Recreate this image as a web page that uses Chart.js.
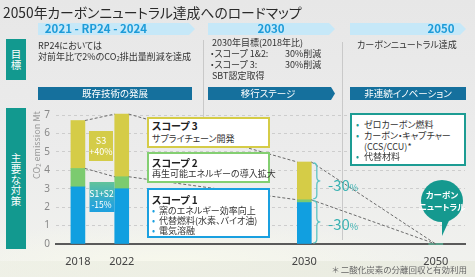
<!DOCTYPE html>
<html><head><meta charset="utf-8">
<script src="https://cdn.jsdelivr.net/npm/chart.js@4"></script>
<style>
html,body{margin:0;padding:0}
body{width:475px;height:277px;overflow:hidden;position:relative;font-family:"Noto Sans CJK JP","Noto Sans",sans-serif;font-feature-settings:"palt";color:#333;
background:radial-gradient(ellipse 260px 40px at 170px 262px,#f7f8ec 0%,rgba(247,248,236,0) 100%),linear-gradient(180deg,#e7e7e7 0%,#ececec 55%,#f1f2ee 100%);}
#c{position:absolute;left:0;top:0;z-index:1}
.a{position:absolute;white-space:nowrap;line-height:1;z-index:2}
.l{transform:translateY(-50%)}
.c{transform:translate(-50%,-50%);text-align:center}
.r{transform:translate(-100%,-50%)}
.sep{position:absolute;width:1px;background:#c9c9c9;z-index:0}
.band{position:absolute;height:12px;background:#c6e8f8;z-index:2;clip-path:polygon(0 0,calc(100% - 6px) 0,100% 50%,calc(100% - 6px) 100%,0 100%)}
.dark{position:absolute;height:13px;background:#15709d;z-index:2}
.bt{color:#1d9bd8;font-weight:700;font-size:11.5px}
.wt{color:#fff;font-size:9.5px}
.teal{position:absolute;background:#12998f;z-index:2;color:#fff;text-align:center}
.box{position:absolute;background:#fff;border:2px solid;box-sizing:border-box;z-index:2}
.t9{font-size:9px}
.h{font-size:10px;font-weight:700;color:#222}
.bl{color:#1aa0e0}
.tb{color:#1d9c93}
.m30{color:#3ab2b2;font-size:15px}
.m30 span{font-size:9px}
</style></head>
<body>
<canvas id="c" width="475" height="277"></canvas>

<!-- separators -->
<div class="sep" style="left:203px;top:40px;height:77px"></div>
<div class="sep" style="left:342px;top:42px;height:198px"></div>

<!-- title -->
<div class="a l" style="left:3px;top:12.5px;font-size:13.8px;color:#2a2a2a">2050年カーボンニュートラル達成へのロードマップ</div>

<!-- period bands -->
<div class="band" style="left:38px;top:23px;width:157px"></div>
<div class="band" style="left:208px;top:23px;width:127px"></div>
<div class="band" style="left:350px;top:23px;width:116px"></div>
<div class="a c bt" style="left:96px;top:29px">2021 - RP24 - 2024</div>
<div class="a c bt" style="left:271px;top:29px">2030</div>
<div class="a c bt" style="left:441px;top:29px">2050</div>

<!-- left labels -->
<div class="teal" style="left:6px;top:39px;width:20px;height:41px;font-size:10.5px;line-height:11px;padding-top:9px;box-sizing:border-box">目<br>標</div>
<div class="teal" style="left:6px;top:108px;width:20px;height:141px;font-size:10.5px;line-height:10.8px;padding-top:45px;box-sizing:border-box">主<br>要<br>な<br>対<br>策</div>

<!-- goals row -->
<div class="a l t9" style="left:38px;top:45px">RP24においては</div>
<div class="a l t9" style="left:38px;top:57px">対前年比で2%のCO<sub style="font-size:6px;vertical-align:-1px">2</sub>排出量削減を達成</div>
<div class="a l t9" style="left:212px;top:42px">2030年目標(2018年比)</div>
<div class="a l t9" style="left:210px;top:53px">・スコープ 1&amp;2:</div>
<div class="a l t9" style="left:285px;top:53px">30%削減</div>
<div class="a l t9" style="left:210px;top:64px">・スコープ 3:</div>
<div class="a l t9" style="left:285px;top:64px">30%削減</div>
<div class="a l t9" style="left:212px;top:75px">SBT認定取得</div>
<div class="a l t9" style="left:357px;top:43.5px">カーボンニュートラル達成</div>

<!-- stage banners -->
<div class="dark" style="left:38px;top:87px;width:154px"></div>
<div class="dark" style="left:208px;top:87px;width:127px;clip-path:polygon(0 0,calc(100% - 4px) 0,100% 50%,calc(100% - 4px) 100%,0 100%)"></div>
<div class="dark" style="left:350px;top:87px;width:116px"></div>
<div class="a c wt" style="left:115px;top:93.5px">既存技術の発展</div>
<div class="a c wt" style="left:268px;top:93.5px">移行ステージ</div>
<div class="a c wt" style="left:408px;top:93.5px">非連続イノベーション</div>

<!-- axis title -->
<div class="a" style="left:37px;top:145px;font-size:9px;color:#999;transform:translate(-50%,-50%) rotate(-90deg)">CO<sub style="font-size:6px;vertical-align:-1px">2</sub> emission Mt</div>

<!-- change labels -->
<div class="a c" style="left:101px;top:145.5px;width:24px;height:30px;background:#d4cc48"></div>
<div class="a c wt" style="left:101px;top:140px;font-size:9px">S3</div>
<div class="a c wt" style="left:101px;top:151px;font-size:9px">+40%</div>
<div class="a c" style="left:101.5px;top:197px;width:25px;height:30px;background:linear-gradient(180deg,#62c39a 0%,#2aa6d6 70%,#1ea0de 100%)"></div>
<div class="a c wt" style="left:101.5px;top:193px;font-size:8.5px">S1+S2</div>
<div class="a c wt" style="left:101.5px;top:203.5px;font-size:8.5px">-15%</div>

<!-- scope boxes -->
<div class="box" style="left:147px;top:117px;width:123px;height:31px;border-color:#d5cc47"></div>
<div class="a l h" style="left:152px;top:126px">スコープ 3</div>
<div class="a l t9" style="left:152px;top:137.5px">サプライチェーン開発</div>
<div class="box" style="left:147px;top:152px;width:123px;height:31px;border-color:#84cf72"></div>
<div class="a l h" style="left:152px;top:162.5px">スコープ 2</div>
<div class="a l t9" style="left:152px;top:173px">再生可能エネルギーの導入拡大</div>
<div class="box" style="left:147px;top:188px;width:123px;height:50px;border-color:#1aa0e0"></div>
<div class="a l h" style="left:152px;top:199.5px">スコープ 1</div>
<div class="a l t9 bl" style="left:152px;top:209.5px">•</div>
<div class="a l t9" style="left:159px;top:209.5px">窯のエネルギー効率向上</div>
<div class="a l t9 bl" style="left:152px;top:219.5px">•</div>
<div class="a l t9" style="left:159px;top:219.5px">代替燃料(水素、バイオ油)</div>
<div class="a l t9 bl" style="left:152px;top:230px">•</div>
<div class="a l t9" style="left:159px;top:230px">電気溶融</div>

<!-- innovation box -->
<div class="box" style="left:350px;top:113px;width:116px;height:53px;border-color:#1d9c93"></div>
<div class="a l t9 tb" style="left:356px;top:124px">•</div>
<div class="a l t9" style="left:364px;top:124px">ゼロカーボン燃料</div>
<div class="a l t9 tb" style="left:356px;top:134.5px">•</div>
<div class="a l t9" style="left:364px;top:134.5px">カーボン・キャプチャー</div>
<div class="a l t9" style="left:364px;top:146px">(CCS/CCU)*</div>
<div class="a l t9 tb" style="left:356px;top:156px">•</div>
<div class="a l t9" style="left:364px;top:156px">代替材料</div>

<!-- -30% -->
<div class="a l m30" style="left:328px;top:183.5px">-30<span>%</span></div>
<div class="a l m30" style="left:328px;top:223px">-30<span>%</span></div>

<!-- bubble -->
<div class="a" style="left:421px;top:180px;width:42px;height:42px;border-radius:50%;background:#15998f"></div>
<div class="a" style="left:442px;top:212px;width:11px;height:24px;background:#15998f;clip-path:polygon(0 0,100% 0,0 100%)"></div>
<div class="a c" style="left:442px;top:194px;font-size:8.5px;font-weight:700;color:#fff">カーボン</div>
<div class="a c" style="left:442px;top:206px;font-size:8.5px;font-weight:700;color:#fff">ニュートラル</div>

<!-- footer -->
<div style="position:absolute;left:0;top:261px;width:475px;height:16px;background:linear-gradient(90deg,rgba(236,238,226,0.6),#e9ebe0);z-index:0"></div>
<div class="a r" style="left:467px;top:269px;font-size:8.5px;color:#666">＊ 二酸化炭素の分離回収と有効利用</div>

<script>
// ---- data ----
const years  = ['2018', '2022', '2030', '2050'];
const scope1 = [3.1, 3.0, 2.25, 0];   // blue
const scope2 = [1.0, 0.65, 0.15, 0];  // green
const scope3 = [2.6, 3.4, 2.05, 0];   // yellow
const yTicks = [0, 1, 2, 3, 4, 5, 6, 7];

// ---- layout: uneven year spacing via a fine category grid ----
const SLOTS = 57;
const yearSlot = [3, 9, 34, 52];
const labels = Array(SLOTS).fill('');
yearSlot.forEach((s, i) => labels[s] = years[i]);
const spread = vals => { const a = Array(SLOTS).fill(null); yearSlot.forEach((s, i) => a[s] = vals[i]); return a; };

const connectors = {
  id: 'connectors',
  afterDatasetsDraw(chart) {
    const ctx = chart.ctx;
    const metas = [chart.getDatasetMeta(1), chart.getDatasetMeta(2)];
    ctx.save();
    ctx.setLineDash([3, 2]);
    ctx.strokeStyle = '#6a6a6a';
    ctx.lineWidth = 1;
    for (let i = 0; i < yearSlot.length - 1; i++) {
      const a = yearSlot[i], b = yearSlot[i + 1];
      const endZero = (scope1[i + 1] + scope2[i + 1] + scope3[i + 1]) === 0;
      metas.forEach(m => {
        const e1 = m.data[a], e2 = m.data[b];
        ctx.beginPath();
        ctx.moveTo(e1.x + e1.width / 2, e1.y);
        ctx.lineTo(endZero ? e2.x : e2.x - e2.width / 2, e2.y);
        ctx.stroke();
      });
    }
    ctx.setLineDash([]);
    // braces for 2030 reductions
    const idx = yearSlot[2];
    const g = chart.getDatasetMeta(1).data[idx], yel = chart.getDatasetMeta(2).data[idx];
    const base = chart.scales.y.getPixelForValue(0);
    const bx = yel.x + yel.width / 2 + 2;
    ctx.strokeStyle = '#5cc3c3';
    ctx.lineWidth = 1.3;
    const brace = (x, y1, y2, w) => {
      const m = (y1 + y2) / 2, r = 4;
      ctx.beginPath();
      ctx.moveTo(x, y1);
      ctx.quadraticCurveTo(x + w / 2, y1, x + w / 2, y1 + r);
      ctx.lineTo(x + w / 2, m - r);
      ctx.quadraticCurveTo(x + w / 2, m, x + w, m);
      ctx.quadraticCurveTo(x + w / 2, m, x + w / 2, m + r);
      ctx.lineTo(x + w / 2, y2 - r);
      ctx.quadraticCurveTo(x + w / 2, y2, x, y2);
      ctx.stroke();
    };
    brace(bx, yel.y + 1, g.y - 1, 7);
    brace(bx, g.y + 1, base - 1, 7);
    ctx.restore();
  }
};

Chart.defaults.font.family = '"Noto Sans", "DejaVu Sans", sans-serif';
new Chart(document.getElementById('c'), {
  type: 'bar',
  data: {
    labels,
    datasets: [
      { data: spread(scope1), backgroundColor: '#119fe0', barThickness: 14, clip: false },
      { data: spread(scope2), backgroundColor: '#7ccb6f', barThickness: 14, clip: false },
      { data: spread(scope3), backgroundColor: '#d5cc47', barThickness: 14, clip: false }
    ]
  },
  options: {
    responsive: false,
    animation: false,
    devicePixelRatio: 1,
    layout: { padding: { top: 115, right: 10, left: 0, bottom: 0 } },
    plugins: { legend: { display: false }, tooltip: { enabled: false } },
    scales: {
      x: {
        type: 'category', offset: false, stacked: true,
        grid: { display: false },
        border: { color: '#5a5a5a', width: 2 },
        ticks: { autoSkip: false, maxRotation: 0, padding: 3, color: '#444', font: { size: 11 } },
        afterFit(s) { s.height = 33; }
      },
      y: {
        stacked: true, min: yTicks[0], max: yTicks[yTicks.length - 1],
        afterBuildTicks(s) { s.ticks = yTicks.map(v => ({ value: v })); },
        ticks: { padding: 6, color: '#888', font: { size: 10 } },
        grid: { color: '#cdcdcd', drawTicks: false },
        border: { display: false, dash: [3, 3] },
        afterFit(s) { s.width = 56; }
      }
    }
  },
  plugins: [connectors]
});
</script>
</body></html>
